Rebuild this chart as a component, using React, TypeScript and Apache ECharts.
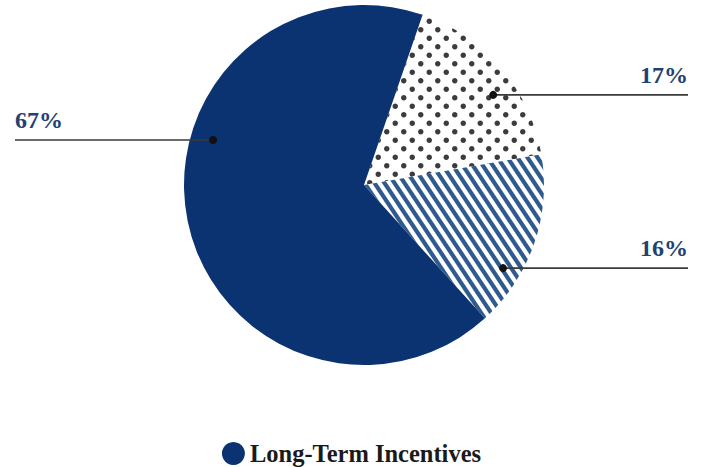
import React, { useEffect, useRef } from "react";
import * as echarts from "echarts";

// ---- data ----
const categories = ["Annual Incentive", "Base Salary", "Long-Term Incentives"];
const shares = [17, 16, 67];
const legendItems = ["Long-Term Incentives"];

// ---- layout / style ----
const W = 703;
const H = 467;
const CX = 364;
const CY = 185;
const R = 180;
const START_OFFSET = 19; // degrees clockwise from 12 o'clock
const anchorFrac = [0.59, 0.706, 0.617];
const anchorRadial = [0.875, 0.9, 0.875];
const LEFT_EDGE = 15;
const RIGHT_EDGE = 688;
const NAVY = "#0b3372";
const STRIPE = "#2f5a8e";
const DOT = "#3c3c3c";
const LABEL_COLOR = "#1f4274";
const LINE_COLOR = "#3a3a3a";
const FONT = "'Liberation Serif', 'DejaVu Serif', serif";

function makeDots() {
  const s = 4, w = 17, h = 17;
  const c = document.createElement("canvas");
  c.width = w * s;
  c.height = h * s;
  const ctx = c.getContext("2d")!;
  ctx.scale(s, s);
  ctx.fillStyle = "#ffffff";
  ctx.fillRect(0, 0, w, h);
  ctx.fillStyle = DOT;
  const pts = [[4.25, 4.25], [12.75, 12.75]];
  for (const [x, y] of pts) {
    ctx.beginPath();
    ctx.arc(x, y, 2.7, 0, Math.PI * 2);
    ctx.fill();
  }
  return { image: c, repeat: "repeat", imageWidth: w, imageHeight: h };
}

function makeStripes() {
  const s = 4, w = 10, h = 15, bw = 5.0;
  const c = document.createElement("canvas");
  c.width = w * s;
  c.height = h * s;
  const ctx = c.getContext("2d")!;
  ctx.scale(s, s);
  ctx.fillStyle = "#ffffff";
  ctx.fillRect(0, 0, w, h);
  ctx.fillStyle = STRIPE;
  for (let k = -2; k <= 2; k++) {
    const x0 = k * w;
    ctx.beginPath();
    ctx.moveTo(x0, 0);
    ctx.lineTo(x0 + bw, 0);
    ctx.lineTo(x0 + bw + w, h);
    ctx.lineTo(x0 + w, h);
    ctx.closePath();
    ctx.fill();
  }
  return { image: c, repeat: "repeat", imageWidth: w, imageHeight: h };
}

function anchor(i: number): [number, number] {
  const total = shares.reduce((a, b) => a + b, 0);
  let before = 0;
  for (let j = 0; j < i; j++) before += shares[j];
  const deg = START_OFFSET + ((before + shares[i] * anchorFrac[i]) / total) * 360;
  const a = (deg * Math.PI) / 180;
  const r = R * anchorRadial[i];
  return [CX + r * Math.sin(a), CY - r * Math.cos(a)];
}

export default function App() {
  const ref = useRef<HTMLDivElement>(null);
  useEffect(() => {
    if (!ref.current) return;
    const chart = echarts.init(ref.current, undefined, { renderer: "svg" });
    const fills: any[] = [makeDots(), makeStripes(), NAVY];
    const guideLines = shares.map((_, i) => {
      const [x, y] = anchor(i);
      const edge = x > CX ? RIGHT_EDGE : LEFT_EDGE;
      return {
        type: "line",
        shape: { x1: x, y1: y, x2: edge, y2: y },
        style: { stroke: LINE_COLOR, lineWidth: 1.6 },
        z: 99,
        silent: true,
      };
    });
    const guideDots = shares.map((_, i) => {
      const [x, y] = anchor(i);
      return {
        type: "circle",
        shape: { cx: x, cy: y, r: 4 },
        style: { fill: "#111111" },
        z: 100,
        silent: true,
      };
    });
    const option: any = {
      animation: false,
      backgroundColor: "#ffffff",
      legend: {
        data: legendItems,
        left: "center",
        top: 436,
        icon: "circle",
        itemWidth: 23,
        itemHeight: 23,
        selectedMode: false,
        textStyle: { fontFamily: FONT, fontSize: 24.5, fontWeight: "bold", color: "#1a1a1a" },
      },
      graphic: [...guideLines, ...guideDots],
      series: [
        {
          type: "pie",
          center: [CX, CY],
          radius: R,
          startAngle: 90 - START_OFFSET,
          clockwise: true,
          silent: true,
          emphasis: { disabled: true },
          data: categories.map((name, i) => ({
            name,
            value: shares[i],
            itemStyle: { color: fills[i] },
          })),
          label: {
            show: true,
            position: "outside",
            formatter: (p: any) => `${p.value}%`,
            fontFamily: FONT,
            fontSize: 24,
            fontWeight: "bold",
            color: LABEL_COLOR,
            lineHeight: 24,
          },
          labelLine: { show: false },
          labelLayout: (p: any) => {
            const [x, y] = anchor(p.dataIndex);
            const right = x > CX;
            const edge = right ? RIGHT_EDGE : LEFT_EDGE;
            return {
              x: edge,
              y: y - 8,
              align: right ? "right" : "left",
              verticalAlign: "bottom",
            };
          },
        },
      ],
    };
    chart.setOption(option);
    return () => chart.dispose();
  }, []);
  return (
    <div
      ref={ref}
      style={{ position: "absolute", left: 0, top: 0, width: W, height: H }}
    />
  );
}
